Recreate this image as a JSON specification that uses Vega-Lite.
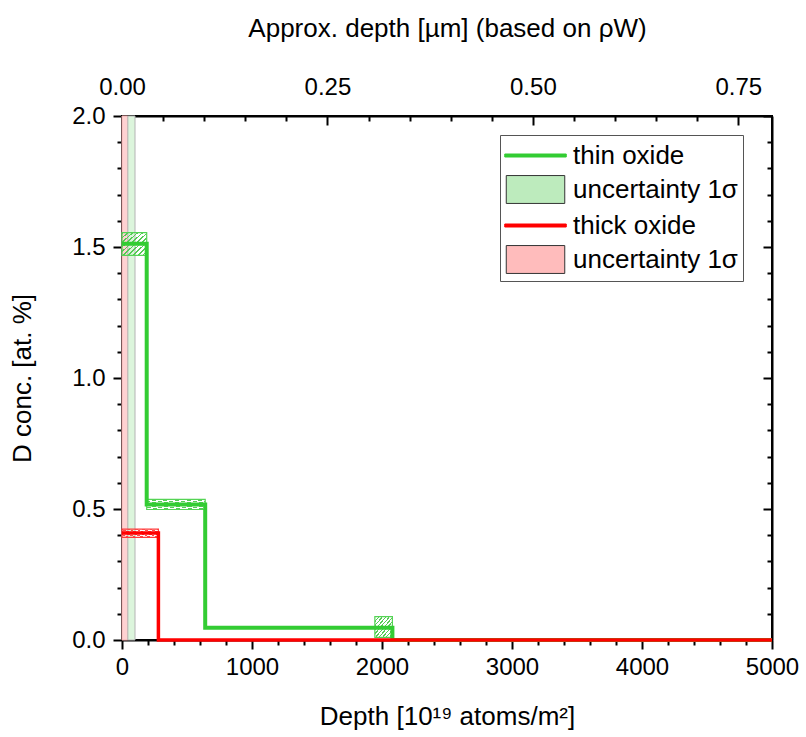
{
  "$schema": "https://vega.github.io/schema/vega-lite/v6.json",
  "autosize": {"type": "none"},
  "padding": {"left": 122, "top": 116, "right": 34, "bottom": 97},
  "width": 650,
  "height": 524,
  "background": "white",
  "datasets": {
    "bands": [
      {"series": "thick band", "x0": 0, "x1": 45},
      {"series": "thin band", "x0": 45, "x1": 100}
    ],
    "boxes": [
      {"series": "thin unc", "x0": 0, "x1": 190, "lo": 1.468, "hi": 1.555},
      {"series": "thin unc", "x0": 190, "x1": 640, "lo": 0.498, "hi": 0.537},
      {"series": "thin unc", "x0": 1945, "x1": 2080, "lo": 0.01, "hi": 0.089},
      {"series": "thick unc", "x0": 0, "x1": 280, "lo": 0.392, "hi": 0.423}
    ],
    "lines": [
      {"series": "thin oxide", "depth": 0, "conc": 1.512},
      {"series": "thin oxide", "depth": 190, "conc": 0.517},
      {"series": "thin oxide", "depth": 640, "conc": 0.047},
      {"series": "thin oxide", "depth": 2080, "conc": 0},
      {"series": "thin oxide", "depth": 5000, "conc": 0},
      {"series": "thick oxide", "depth": 0, "conc": 0.408},
      {"series": "thick oxide", "depth": 280, "conc": 0},
      {"series": "thick oxide", "depth": 5000, "conc": 0}
    ],
    "um": [{"um": 0}, {"um": 0.791}]
  },
  "resolve": {"scale": {"x": "independent"}, "axis": {"x": "independent"}},
  "layer": [
    {
      "resolve": {"axis": {"x": "independent", "y": "independent"}},
      "layer": [
        {
          "data": {"name": "bands"},
          "transform": [{"filter": "datum.series === 'thick band'"}],
          "mark": {"type": "rect", "fill": "#ffd2d2", "stroke": "#f4b0b0", "strokeWidth": 1},
          "encoding": {
            "x": {"field": "x0", "type": "quantitative", "scale": {"domain": [0, 5000], "nice": false, "zero": false},
              "axis": {"orient": "bottom", "values": [0, 1000, 2000, 3000, 4000, 5000], "format": "d", "tickSize": 9, "labelPadding": 6, "title": "Depth [10¹⁹ atoms/m²]", "titlePadding": 24}},
            "x2": {"field": "x1"}
          }
        },
        {
          "data": {"name": "bands"},
          "transform": [{"filter": "datum.series === 'thin band'"}],
          "mark": {"type": "rect", "fill": "#dcf5dc", "stroke": "#b4b4b4", "strokeWidth": 1},
          "encoding": {
            "x": {"field": "x0", "type": "quantitative", "axis": null},
            "x2": {"field": "x1"}
          }
        },
        {
          "data": {"name": "boxes"},
          "transform": [{"filter": "datum.series === 'thin unc'"}],
          "mark": {"type": "rect", "stroke": "#55d455", "strokeWidth": 1.2,
            "fill": {"gradient": "linear", "x1": 0, "y1": 0, "x2": 1, "y2": 1, "stops": [
              {"offset": 0, "color": "#55cc55"}, {"offset": 0.035, "color": "#55cc55"}, {"offset": 0.035, "color": "rgba(255,255,255,0)"}, {"offset": 0.1, "color": "rgba(255,255,255,0)"},
              {"offset": 0.1, "color": "#55cc55"}, {"offset": 0.135, "color": "#55cc55"}, {"offset": 0.135, "color": "rgba(255,255,255,0)"}, {"offset": 0.2, "color": "rgba(255,255,255,0)"},
              {"offset": 0.2, "color": "#55cc55"}, {"offset": 0.235, "color": "#55cc55"}, {"offset": 0.235, "color": "rgba(255,255,255,0)"}, {"offset": 0.3, "color": "rgba(255,255,255,0)"},
              {"offset": 0.3, "color": "#55cc55"}, {"offset": 0.335, "color": "#55cc55"}, {"offset": 0.335, "color": "rgba(255,255,255,0)"}, {"offset": 0.4, "color": "rgba(255,255,255,0)"},
              {"offset": 0.4, "color": "#55cc55"}, {"offset": 0.435, "color": "#55cc55"}, {"offset": 0.435, "color": "rgba(255,255,255,0)"}, {"offset": 0.5, "color": "rgba(255,255,255,0)"},
              {"offset": 0.5, "color": "#55cc55"}, {"offset": 0.535, "color": "#55cc55"}, {"offset": 0.535, "color": "rgba(255,255,255,0)"}, {"offset": 0.6, "color": "rgba(255,255,255,0)"},
              {"offset": 0.6, "color": "#55cc55"}, {"offset": 0.635, "color": "#55cc55"}, {"offset": 0.635, "color": "rgba(255,255,255,0)"}, {"offset": 0.7, "color": "rgba(255,255,255,0)"},
              {"offset": 0.7, "color": "#55cc55"}, {"offset": 0.735, "color": "#55cc55"}, {"offset": 0.735, "color": "rgba(255,255,255,0)"}, {"offset": 0.8, "color": "rgba(255,255,255,0)"},
              {"offset": 0.8, "color": "#55cc55"}, {"offset": 0.835, "color": "#55cc55"}, {"offset": 0.835, "color": "rgba(255,255,255,0)"}, {"offset": 0.9, "color": "rgba(255,255,255,0)"},
              {"offset": 0.9, "color": "#55cc55"}, {"offset": 0.935, "color": "#55cc55"}, {"offset": 0.935, "color": "rgba(255,255,255,0)"}, {"offset": 1, "color": "rgba(255,255,255,0)"}
            ]}},
          "encoding": {
            "x": {"field": "x0", "type": "quantitative",
              "axis": {"orient": "bottom", "values": [200, 400, 600, 800, 1200, 1400, 1600, 1800, 2200, 2400, 2600, 2800, 3200, 3400, 3600, 3800, 4200, 4400, 4600, 4800], "tickSize": 5, "labels": false, "domain": false, "title": null}},
            "x2": {"field": "x1"},
            "y": {"field": "lo", "type": "quantitative", "scale": {"domain": [0, 2], "nice": false},
              "axis": {"orient": "left", "values": [0, 0.5, 1, 1.5, 2], "format": ".1f", "tickSize": 9, "labelPadding": 8, "title": "D conc. [at. %]", "titlePadding": 36}},
            "y2": {"field": "hi"}
          }
        },
        {
          "data": {"name": "boxes"},
          "transform": [{"filter": "datum.series === 'thick unc'"}],
          "mark": {"type": "rect", "stroke": "#ff3a3a", "strokeWidth": 1.2,
            "fill": {"gradient": "linear", "x1": 0, "y1": 0, "x2": 1, "y2": 1, "stops": [
              {"offset": 0, "color": "#ff4a4a"}, {"offset": 0.035, "color": "#ff4a4a"}, {"offset": 0.035, "color": "rgba(255,255,255,0)"}, {"offset": 0.1, "color": "rgba(255,255,255,0)"},
              {"offset": 0.1, "color": "#ff4a4a"}, {"offset": 0.135, "color": "#ff4a4a"}, {"offset": 0.135, "color": "rgba(255,255,255,0)"}, {"offset": 0.2, "color": "rgba(255,255,255,0)"},
              {"offset": 0.2, "color": "#ff4a4a"}, {"offset": 0.235, "color": "#ff4a4a"}, {"offset": 0.235, "color": "rgba(255,255,255,0)"}, {"offset": 0.3, "color": "rgba(255,255,255,0)"},
              {"offset": 0.3, "color": "#ff4a4a"}, {"offset": 0.335, "color": "#ff4a4a"}, {"offset": 0.335, "color": "rgba(255,255,255,0)"}, {"offset": 0.4, "color": "rgba(255,255,255,0)"},
              {"offset": 0.4, "color": "#ff4a4a"}, {"offset": 0.435, "color": "#ff4a4a"}, {"offset": 0.435, "color": "rgba(255,255,255,0)"}, {"offset": 0.5, "color": "rgba(255,255,255,0)"},
              {"offset": 0.5, "color": "#ff4a4a"}, {"offset": 0.535, "color": "#ff4a4a"}, {"offset": 0.535, "color": "rgba(255,255,255,0)"}, {"offset": 0.6, "color": "rgba(255,255,255,0)"},
              {"offset": 0.6, "color": "#ff4a4a"}, {"offset": 0.635, "color": "#ff4a4a"}, {"offset": 0.635, "color": "rgba(255,255,255,0)"}, {"offset": 0.7, "color": "rgba(255,255,255,0)"},
              {"offset": 0.7, "color": "#ff4a4a"}, {"offset": 0.735, "color": "#ff4a4a"}, {"offset": 0.735, "color": "rgba(255,255,255,0)"}, {"offset": 0.8, "color": "rgba(255,255,255,0)"},
              {"offset": 0.8, "color": "#ff4a4a"}, {"offset": 0.835, "color": "#ff4a4a"}, {"offset": 0.835, "color": "rgba(255,255,255,0)"}, {"offset": 0.9, "color": "rgba(255,255,255,0)"},
              {"offset": 0.9, "color": "#ff4a4a"}, {"offset": 0.935, "color": "#ff4a4a"}, {"offset": 0.935, "color": "rgba(255,255,255,0)"}, {"offset": 1, "color": "rgba(255,255,255,0)"}
            ]}},
          "encoding": {
            "x": {"field": "x0", "type": "quantitative", "axis": null},
            "x2": {"field": "x1"},
            "y": {"field": "lo", "type": "quantitative",
              "axis": {"orient": "right", "values": [0.1, 0.2, 0.3, 0.4, 0.6, 0.7, 0.8, 0.9, 1.1, 1.2, 1.3, 1.4, 1.6, 1.7, 1.8, 1.9], "tickSize": -5, "labels": false, "domain": false, "title": null}},
            "y2": {"field": "hi"}
          }
        },
        {
          "data": {"name": "lines"},
          "transform": [{"filter": "datum.series === 'thin oxide'"}],
          "mark": {"type": "line", "interpolate": "step-after", "strokeWidth": 4},
          "encoding": {
            "x": {"field": "depth", "type": "quantitative", "axis": null},
            "y": {"field": "conc", "type": "quantitative",
              "axis": {"orient": "left", "values": [0.1, 0.2, 0.3, 0.4, 0.6, 0.7, 0.8, 0.9, 1.1, 1.2, 1.3, 1.4, 1.6, 1.7, 1.8, 1.9], "tickSize": 5, "labels": false, "domain": false, "title": null}},
            "color": {"field": "series", "type": "nominal",
              "scale": {"domain": ["thin oxide", "thin unc", "thick oxide", "thick unc"], "range": ["#33cc33", "#333333", "#ff0000", "#333333"]}}
          }
        },
        {
          "data": {"name": "lines"},
          "transform": [{"filter": "datum.series === 'thick oxide'"}],
          "mark": {"type": "line", "interpolate": "step-after", "strokeWidth": 3.5},
          "encoding": {
            "x": {"field": "depth", "type": "quantitative", "axis": null},
            "y": {"field": "conc", "type": "quantitative",
              "axis": {"orient": "right", "values": [0, 0.5, 1, 1.5, 2], "tickSize": -9, "labels": false, "title": null}},
            "color": {"field": "series", "type": "nominal"}
          }
        },
        {
          "data": {"name": "lines"},
          "mark": {"type": "point", "opacity": 0},
          "encoding": {
            "x": {"field": "depth", "type": "quantitative", "axis": null},
            "y": {"field": "conc", "type": "quantitative", "axis": null},
            "color": {"field": "series", "type": "nominal",
              "legend": {"title": null, "orient": "none", "legendX": 378, "legendY": 19,
                "labelExpr": "test(/unc/, datum.value) ? 'uncertainty 1σ' : datum.value"}},
            "fill": {"field": "series", "type": "nominal",
              "scale": {"domain": ["thin oxide", "thin unc", "thick oxide", "thick unc"], "range": ["#33cc33", "#bdebbd", "#ff0000", "#ffbcbc"]}},
            "shape": {"field": "series", "type": "nominal",
              "scale": {"domain": ["thin oxide", "thin unc", "thick oxide", "thick unc"], "range": ["M-2.05,-0.1H2.05V0.1H-2.05Z", "M-1.95,-0.93H1.95V0.93H-1.95Z", "M-2.05,-0.1H2.05V0.1H-2.05Z", "M-1.95,-0.93H1.95V0.93H-1.95Z"]}}
          }
        }
      ]
    },
    {
      "data": {"name": "um"},
      "resolve": {"axis": {"x": "independent"}},
      "layer": [
        {
          "mark": {"type": "point", "opacity": 0, "size": 0},
          "encoding": {
            "x": {"field": "um", "type": "quantitative", "scale": {"domain": [0, 0.791], "nice": false, "zero": false},
              "axis": {"orient": "top", "values": [0, 0.25, 0.5, 0.75], "format": ".2f", "tickSize": -9, "labelPadding": 26, "title": "Approx. depth [µm] (based on ρW)", "titlePadding": 34}}
          }
        },
        {
          "mark": {"type": "point", "opacity": 0, "size": 0},
          "encoding": {
            "x": {"field": "um", "type": "quantitative",
              "axis": {"orient": "top", "values": [0.05, 0.1, 0.15, 0.2, 0.3, 0.35, 0.4, 0.45, 0.55, 0.6, 0.65, 0.7], "tickSize": -5, "labels": false, "domain": false, "title": null}}
          }
        }
      ]
    }
  ],
  "config": {
    "view": {"stroke": "black", "strokeWidth": 2},
    "axis": {
      "grid": false,
      "domainColor": "black",
      "domainWidth": 2,
      "tickColor": "black",
      "tickWidth": 2,
      "labelFont": "Liberation Sans",
      "labelFontSize": 24,
      "labelColor": "black",
      "titleFont": "Liberation Sans",
      "titleFontSize": 26,
      "titleFontWeight": "normal",
      "titleColor": "black",
      "labelFlush": false,
      "labelOverlap": false
    },
    "legend": {
      "orient": "none",
      "legendX": 378,
      "legendY": 19,
      "strokeColor": "#555555",
      "fillColor": "white",
      "padding": 5,
      "labelFont": "Liberation Sans",
      "labelFontSize": 26,
      "labelColor": "black",
      "labelOffset": 22,
      "symbolOffset": 15,
      "symbolSize": 900,
      "symbolStrokeWidth": 1,
      "symbolOpacity": 1,
      "rowPadding": 4,
      "labelLimit": 300
    }
  }
}
